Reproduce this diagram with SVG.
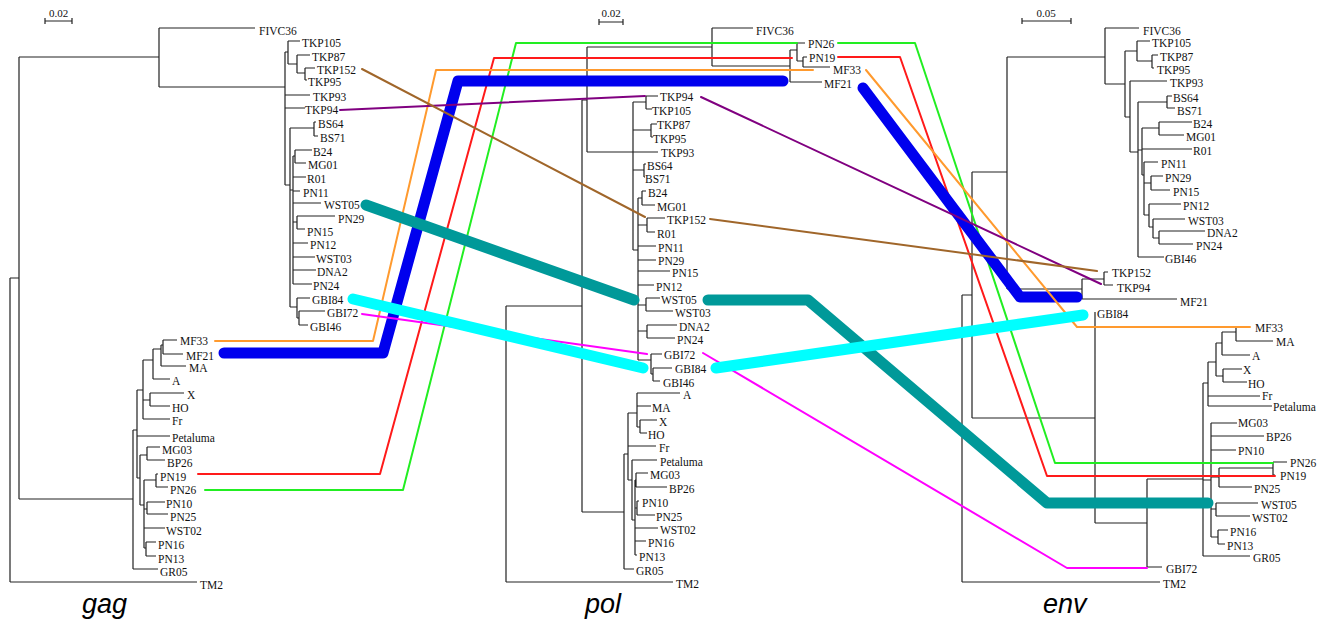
<svg xmlns="http://www.w3.org/2000/svg" width="1325" height="621" viewBox="0 0 1325 621">
<style>
.br{fill:none;stroke:#222;stroke-width:1.2}
.lb{font-family:"Liberation Serif","Times New Roman",serif;font-size:11.5px;fill:#111}
.sc{font-family:"Liberation Serif","Times New Roman",serif;font-size:11px;fill:#111;text-anchor:middle}
.ti{font-family:"Liberation Sans",Arial,sans-serif;font-style:italic;font-size:27px;fill:#000}
.c{fill:none;stroke-linecap:round;stroke-linejoin:round}
.thin{stroke-width:2}
.thick{stroke-width:11}
</style>
<rect width="1325" height="621" fill="#fff"/>

<g id="gag-tree">
<path class="br" d="M45,21H72M45,18V24M72,18V24"/>
<text class="sc" x="58.5" y="17">0.02</text>
<path class="br" d="M10,278V582M10,278H19M10,582H197
M19,57V499M19,57H159M19,499H133
M159,28V87M159,28H255M159,87H285
M285,52V185M285,52H288M288,41V64M288,41H300M288,64H297M297,55V73M297,55H310M297,73H305M305,68V80M305,68H315M305,80H307
M285,95H310M285,108H305
M285,185H290M290,128V307M290,128H314M314,122V136M314,122H316M314,136H318
M290,190H293M293,156V284M293,156H295M295,150V163M295,150H312M295,163H306
M293,177H306M293,191H300M293,203H321M293,222H297M297,216V229M297,216H335M297,229H305M293,243H308M293,257H315M293,270H316M293,284H312
M290,307H297M297,298V318M297,298H310M297,318H299M299,311V325M299,311H325M299,325H308
M133,430V569M133,569H158M133,430H137
M137,390V478M137,390H143M137,436H170M137,478H140
M143,360V419M143,360H153M143,400H150M143,419H170
M153,349V379M153,379H170M153,349H161M161,345V366M161,366H186M161,345H163M163,340V354M163,340H177M163,354H183
M150,393V406M150,393H184M150,406H170
M140,455V505M140,455H147M147,447V460M147,447H160M147,460H165
M140,505H144M144,480V548M144,480H156M156,474V487M156,474H158M156,487H168
M144,509H147M147,502V514M147,502H165M147,514H168
M144,528H165M144,548H146M146,542V556M146,542H156M146,556H156"/>
<g id="gag-FIVC36"><text class="lb" x="259" y="35">FIVC36</text></g>
<g id="gag-TKP105"><text class="lb" x="302" y="47">TKP105</text></g>
<g id="gag-TKP87"><text class="lb" x="312" y="61">TKP87</text></g>
<g id="gag-TKP152"><text class="lb" x="317" y="74">TKP152</text></g>
<g id="gag-TKP95"><text class="lb" x="308" y="86">TKP95</text></g>
<g id="gag-TKP93"><text class="lb" x="313" y="101">TKP93</text></g>
<g id="gag-TKP94"><text class="lb" x="305" y="114">TKP94</text></g>
<g id="gag-BS64"><text class="lb" x="318" y="128">BS64</text></g>
<g id="gag-BS71"><text class="lb" x="320" y="142">BS71</text></g>
<g id="gag-B24"><text class="lb" x="313" y="156">B24</text></g>
<g id="gag-MG01"><text class="lb" x="308" y="169">MG01</text></g>
<g id="gag-R01"><text class="lb" x="307" y="183">R01</text></g>
<g id="gag-PN11"><text class="lb" x="303" y="197">PN11</text></g>
<g id="gag-WST05"><text class="lb" x="324" y="209">WST05</text></g>
<g id="gag-PN29"><text class="lb" x="338" y="223">PN29</text></g>
<g id="gag-PN15"><text class="lb" x="307" y="236">PN15</text></g>
<g id="gag-PN12"><text class="lb" x="310" y="249">PN12</text></g>
<g id="gag-WST03"><text class="lb" x="316" y="263">WST03</text></g>
<g id="gag-DNA2"><text class="lb" x="317" y="276">DNA2</text></g>
<g id="gag-PN24"><text class="lb" x="313" y="290">PN24</text></g>
<g id="gag-GBI84"><text class="lb" x="312" y="304">GBI84</text></g>
<g id="gag-GBI72"><text class="lb" x="327" y="317">GBI72</text></g>
<g id="gag-GBI46"><text class="lb" x="310" y="331">GBI46</text></g>
<g id="gag-MF33"><text class="lb" x="180" y="345">MF33</text></g>
<g id="gag-MF21"><text class="lb" x="186" y="360">MF21</text></g>
<g id="gag-MA"><text class="lb" x="189" y="372">MA</text></g>
<g id="gag-A"><text class="lb" x="172" y="385">A</text></g>
<g id="gag-X"><text class="lb" x="187" y="399">X</text></g>
<g id="gag-HO"><text class="lb" x="172" y="412">HO</text></g>
<g id="gag-Fr"><text class="lb" x="172" y="425">Fr</text></g>
<g id="gag-Petaluma"><text class="lb" x="172" y="442">Petaluma</text></g>
<g id="gag-MG03"><text class="lb" x="162" y="454">MG03</text></g>
<g id="gag-BP26"><text class="lb" x="167" y="467">BP26</text></g>
<g id="gag-PN19"><text class="lb" x="160" y="481">PN19</text></g>
<g id="gag-PN26"><text class="lb" x="170" y="494">PN26</text></g>
<g id="gag-PN10"><text class="lb" x="166" y="508">PN10</text></g>
<g id="gag-PN25"><text class="lb" x="170" y="521">PN25</text></g>
<g id="gag-WST02"><text class="lb" x="166" y="535">WST02</text></g>
<g id="gag-PN16"><text class="lb" x="158" y="549">PN16</text></g>
<g id="gag-PN13"><text class="lb" x="158" y="563">PN13</text></g>
<g id="gag-GR05"><text class="lb" x="160" y="576">GR05</text></g>
<g id="gag-TM2"><text class="lb" x="200" y="589">TM2</text></g>
<text class="ti" x="82" y="613">gag</text>
</g>

<g id="pol-tree">
<path class="br" d="M599,22H623M599,19V25M623,19V25"/>
<text class="sc" x="611" y="17">0.02</text>
<path class="br" d="M506,306V582M506,306H582M506,582H673
M582,100V512M582,100H587M582,512H624
M587,47V152M587,47H712M587,152H633
M712,28V66M712,28H753M712,66H790
M790,50V82M790,50H797M790,82H822
M797,43V61M797,43H805M797,61H803
M803,57V67M803,57H807M803,67H830
M633,102V250M633,102H646M646,96V109M646,96H658M646,109H652
M633,130H651M651,124V137M651,124H657M651,137H653
M633,152H658
M633,170H644M644,164V177M644,164H646M644,177H645
M633,250H638M638,198V360
M638,198H642M642,191V205M642,191H646M642,205H655
M638,225H647M647,218V232M647,218H665M647,232H655
M638,246H656M638,260H656M638,271H670M638,285H654
M638,305H646M646,298V311M646,298H660M646,311H673
M638,331H647M647,325V338M647,325H677M647,338H675
M638,360H651M651,354V374M651,354H662M651,374H653M653,368V381M653,368H672M653,381H660
M624,454V569M624,454H628M624,569H634
M628,413V480M628,413H637M628,446H656M628,480H632
M637,393V427M637,393H680M637,406H651M637,427H640M640,420V433M640,420H657M640,433H647
M632,460V520M632,460H657M632,520H635
M635,480V555M635,480H636M636,473V487M636,473H648M636,487H667
M635,508H637M637,501V515M637,501H639M637,515H655
M635,528H658M635,541H646M635,555H637"/>
<g id="pol-FIVC36"><text class="lb" x="756" y="35">FIVC36</text></g>
<g id="pol-PN26"><text class="lb" x="808" y="48">PN26</text></g>
<g id="pol-PN19"><text class="lb" x="809" y="62">PN19</text></g>
<g id="pol-MF33"><text class="lb" x="833" y="74">MF33</text></g>
<g id="pol-MF21"><text class="lb" x="824" y="88">MF21</text></g>
<g id="pol-TKP94"><text class="lb" x="660" y="101">TKP94</text></g>
<g id="pol-TKP105"><text class="lb" x="652" y="115">TKP105</text></g>
<g id="pol-TKP87"><text class="lb" x="657" y="129">TKP87</text></g>
<g id="pol-TKP95"><text class="lb" x="653" y="143">TKP95</text></g>
<g id="pol-TKP93"><text class="lb" x="661" y="157">TKP93</text></g>
<g id="pol-BS64"><text class="lb" x="647" y="170">BS64</text></g>
<g id="pol-BS71"><text class="lb" x="645" y="183">BS71</text></g>
<g id="pol-B24"><text class="lb" x="648" y="197">B24</text></g>
<g id="pol-MG01"><text class="lb" x="657" y="211">MG01</text></g>
<g id="pol-TKP152"><text class="lb" x="667" y="224">TKP152</text></g>
<g id="pol-R01"><text class="lb" x="657" y="238">R01</text></g>
<g id="pol-PN11"><text class="lb" x="658" y="252">PN11</text></g>
<g id="pol-PN29"><text class="lb" x="658" y="265">PN29</text></g>
<g id="pol-PN15"><text class="lb" x="672" y="277">PN15</text></g>
<g id="pol-PN12"><text class="lb" x="656" y="291">PN12</text></g>
<g id="pol-WST05"><text class="lb" x="661" y="304">WST05</text></g>
<g id="pol-WST03"><text class="lb" x="675" y="317">WST03</text></g>
<g id="pol-DNA2"><text class="lb" x="679" y="331">DNA2</text></g>
<g id="pol-PN24"><text class="lb" x="677" y="344">PN24</text></g>
<g id="pol-GBI72"><text class="lb" x="664" y="359">GBI72</text></g>
<g id="pol-GBI84"><text class="lb" x="675" y="373">GBI84</text></g>
<g id="pol-GBI46"><text class="lb" x="663" y="387">GBI46</text></g>
<g id="pol-A"><text class="lb" x="683" y="399">A</text></g>
<g id="pol-MA"><text class="lb" x="652" y="412">MA</text></g>
<g id="pol-X"><text class="lb" x="659" y="426">X</text></g>
<g id="pol-HO"><text class="lb" x="648" y="439">HO</text></g>
<g id="pol-Fr"><text class="lb" x="659" y="452">Fr</text></g>
<g id="pol-Petaluma"><text class="lb" x="660" y="466">Petaluma</text></g>
<g id="pol-MG03"><text class="lb" x="650" y="479">MG03</text></g>
<g id="pol-BP26"><text class="lb" x="669" y="493">BP26</text></g>
<g id="pol-PN10"><text class="lb" x="642" y="507">PN10</text></g>
<g id="pol-PN25"><text class="lb" x="656" y="521">PN25</text></g>
<g id="pol-WST02"><text class="lb" x="660" y="534">WST02</text></g>
<g id="pol-PN16"><text class="lb" x="648" y="547">PN16</text></g>
<g id="pol-PN13"><text class="lb" x="639" y="561">PN13</text></g>
<g id="pol-GR05"><text class="lb" x="636" y="575">GR05</text></g>
<g id="pol-TM2"><text class="lb" x="676" y="588">TM2</text></g>
<text class="ti" x="585" y="613">pol</text>
</g>

<g id="env-tree">
<path class="br" d="M1022,21H1071M1022,18V24M1071,18V24"/>
<text class="sc" x="1046" y="17">0.05</text>
<path class="br" d="M962,295V582M962,295H972M962,582H1160
M972,172V418M972,172H1007M972,418H1095
M1007,57V289M1007,57H1105M1007,289H1082
M1082,279V299M1082,279H1104M1082,299H1177
M1104,272V285M1104,272H1108M1104,285H1113
M1105,28V84M1105,28H1139M1105,84H1125
M1125,51V117M1125,51H1137M1125,117H1130
M1137,41V61M1137,41H1150M1137,61H1152M1152,55V68M1152,55H1158M1152,68H1154
M1130,81V152M1130,81H1167M1130,152H1138
M1138,102V257M1138,102H1167M1167,96V108M1167,96H1172M1167,108H1175M1138,150H1142M1138,257H1164
M1142,128V175M1142,128H1159M1159,122V135M1159,122H1192M1159,135H1184M1142,149H1192M1142,175H1144
M1144,162V215M1144,162H1158M1144,183H1151M1151,176V190M1151,176H1163M1151,190H1170M1144,215H1149
M1149,204V227M1149,204H1181M1149,227H1153
M1153,219V238M1153,219H1185M1153,238H1159M1159,231V244M1159,231H1205M1159,244H1193
M1095,312V523M1095,523H1147
M1147,479V567M1147,479H1203M1147,567H1162
M1203,383V556M1203,383H1208M1203,480H1211M1203,556H1250
M1208,362V406M1208,362H1216M1208,396H1260M1208,406H1272
M1216,343V376M1216,343H1222M1216,376H1223
M1222,332V355M1222,332H1236M1222,355H1250M1236,327V341M1236,327H1250M1236,341H1273
M1223,369V382M1223,369H1242M1223,382H1247
M1211,423V537M1211,423H1237M1211,436H1264M1211,450H1236M1211,477H1219M1211,509H1216M1211,537H1218
M1219,468V487M1219,468H1273M1273,462V475M1273,462H1287M1273,475H1275M1219,487H1252
M1216,503V516M1216,503H1258M1216,516H1250
M1218,530V544M1218,530H1228M1218,544H1225"/>
<g id="env-FIVC36"><text class="lb" x="1143" y="35">FIVC36</text></g>
<g id="env-TKP105"><text class="lb" x="1152" y="47">TKP105</text></g>
<g id="env-TKP87"><text class="lb" x="1160" y="61">TKP87</text></g>
<g id="env-TKP95"><text class="lb" x="1157" y="74">TKP95</text></g>
<g id="env-TKP93"><text class="lb" x="1170" y="87">TKP93</text></g>
<g id="env-BS64"><text class="lb" x="1173" y="102">BS64</text></g>
<g id="env-BS71"><text class="lb" x="1177" y="115">BS71</text></g>
<g id="env-B24"><text class="lb" x="1193" y="128">B24</text></g>
<g id="env-MG01"><text class="lb" x="1186" y="141">MG01</text></g>
<g id="env-R01"><text class="lb" x="1193" y="155">R01</text></g>
<g id="env-PN11"><text class="lb" x="1161" y="168">PN11</text></g>
<g id="env-PN29"><text class="lb" x="1165" y="182">PN29</text></g>
<g id="env-PN15"><text class="lb" x="1173" y="196">PN15</text></g>
<g id="env-PN12"><text class="lb" x="1183" y="210">PN12</text></g>
<g id="env-WST03"><text class="lb" x="1188" y="225">WST03</text></g>
<g id="env-DNA2"><text class="lb" x="1207" y="237">DNA2</text></g>
<g id="env-PN24"><text class="lb" x="1196" y="250">PN24</text></g>
<g id="env-GBI46"><text class="lb" x="1165" y="263">GBI46</text></g>
<g id="env-TKP152"><text class="lb" x="1112" y="277">TKP152</text></g>
<g id="env-TKP94"><text class="lb" x="1117" y="292">TKP94</text></g>
<g id="env-MF21"><text class="lb" x="1180" y="306">MF21</text></g>
<g id="env-GBI84"><text class="lb" x="1097" y="318">GBI84</text></g>
<g id="env-MF33"><text class="lb" x="1255" y="332">MF33</text></g>
<g id="env-MA"><text class="lb" x="1276" y="346">MA</text></g>
<g id="env-A"><text class="lb" x="1252" y="360">A</text></g>
<g id="env-X"><text class="lb" x="1243" y="374">X</text></g>
<g id="env-HO"><text class="lb" x="1248" y="388">HO</text></g>
<g id="env-Fr"><text class="lb" x="1262" y="400">Fr</text></g>
<g id="env-Petaluma"><text class="lb" x="1273" y="411">Petaluma</text></g>
<g id="env-MG03"><text class="lb" x="1238" y="427">MG03</text></g>
<g id="env-BP26"><text class="lb" x="1266" y="441">BP26</text></g>
<g id="env-PN10"><text class="lb" x="1238" y="455">PN10</text></g>
<g id="env-PN26"><text class="lb" x="1290" y="467">PN26</text></g>
<g id="env-PN19"><text class="lb" x="1280" y="480">PN19</text></g>
<g id="env-PN25"><text class="lb" x="1254" y="493">PN25</text></g>
<g id="env-WST05"><text class="lb" x="1261" y="509">WST05</text></g>
<g id="env-WST02"><text class="lb" x="1252" y="522">WST02</text></g>
<g id="env-PN16"><text class="lb" x="1230" y="536">PN16</text></g>
<g id="env-PN13"><text class="lb" x="1227" y="550">PN13</text></g>
<g id="env-GR05"><text class="lb" x="1253" y="562">GR05</text></g>
<g id="env-GBI72"><text class="lb" x="1166" y="573">GBI72</text></g>
<g id="env-TM2"><text class="lb" x="1163" y="588">TM2</text></g>
<text class="ti" x="1043" y="613">env</text>
</g>

<g id="connectors">
<polyline class="c thin" stroke="#22ee22" points="205,490 403,490 516,43 797,43"/>
<polyline class="c thin" stroke="#22ee22" points="838,43 915,43 1055,463 1273,463"/>
<polyline class="c thin" stroke="#ff1a1a" points="198,474 380,474 494,58 792,58"/>
<polyline class="c thin" stroke="#ff1a1a" points="838,57 900,57 1047,476 1275,476"/>
<polyline class="c thick" stroke="#0000ee" points="224,353 383,353 458,81 783,81"/>
<polyline class="c thick" stroke="#0000ee" points="863,88 1020,297 1077,297"/>
<polyline class="c thin" stroke="#ff9a2e" points="215,341 373,341 436,70 813,70"/>
<polyline class="c thin" stroke="#ff9a2e" points="866,70 1077,327 1250,327"/>
<polyline class="c thin" stroke="#800080" points="340,110 645,96"/>
<polyline class="c thin" stroke="#800080" points="701,97 1101,284"/>
<polyline class="c thin" stroke="#a0662a" points="362,69 645,217"/>
<polyline class="c thin" stroke="#a0662a" points="710,219 1097,271"/>
<polyline class="c thin" stroke="#ff00ff" points="362,314 647,354"/>
<polyline class="c thin" stroke="#ff00ff" points="703,353 1067,568 1147,568"/>
<polyline class="c thick" stroke="#009999" points="366,205 634,300"/>
<polyline class="c thick" stroke="#009999" points="708,300 808,300 1047,503 1208,503"/>
<polyline class="c thick" stroke="#00ffff" points="353,299 643,368"/>
<polyline class="c thick" stroke="#00ffff" points="716,368 1083,315"/>
</g>
</svg>
